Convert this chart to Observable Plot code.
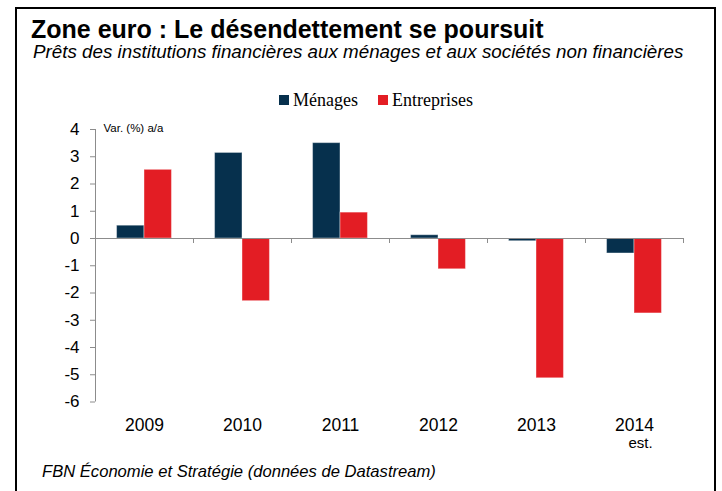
<!DOCTYPE html>
<html><head><meta charset="utf-8">
<script src="https://cdn.jsdelivr.net/npm/d3@7"></script>
<script src="https://cdn.jsdelivr.net/npm/@observablehq/plot@0.6"></script>
<style>
body{margin:0;background:#fff;font-family:"Liberation Sans",Arial,sans-serif;color:#000;}
#wrap{position:relative;width:722px;height:491px;overflow:hidden;}
#box{position:absolute;left:15px;top:7px;width:701px;height:600px;border:2px solid #000;box-sizing:border-box;}
.t{position:absolute;white-space:nowrap;line-height:1;}
#title{left:31px;top:16.8px;font-weight:bold;font-size:25px;}
#subtitle{left:33px;top:43px;font-style:italic;font-size:18.8px;}
#source{left:42px;top:464px;font-style:italic;font-size:16.6px;}
.lg{position:absolute;font-family:"Liberation Serif","Times New Roman",serif;font-size:18px;line-height:1;white-space:nowrap;top:91px;}
.sw{position:absolute;width:10px;height:10px;top:95px;}
#chart{position:absolute;left:0;top:0;}
</style></head>
<body>
<div id="wrap">
  <div id="box"></div>
  <div id="title" class="t"></div>
  <div id="subtitle" class="t"></div>
  <div id="legend"></div>
  <div id="chart"></div>
  <div id="source" class="t"></div>
</div>
<script>
const titleText = "Zone euro : Le désendettement se poursuit";
const subtitleText = "Prêts des institutions financières aux ménages et aux sociétés non financières";
const sourceText = "FBN Économie et Stratégie (données de Datastream)";
const yLabel = "Var. (%) a/a";
const estLabel = "est.";

const years = [2009, 2010, 2011, 2012, 2013, 2014];
const xTickLabels = ["2009", "2010", "2011", "2012", "2013", "2014"];
const menages = [0.47, 3.14, 3.50, 0.12, -0.10, -0.55];
const entreprises = [2.52, -2.30, 0.95, -1.13, -5.13, -2.75];
const seriesNames = ["Ménages", "Entreprises"];
const colors = ["#06304d", "#e31d24"];
const yTicks = [4, 3, 2, 1, 0, -1, -2, -3, -4, -5, -6];

document.getElementById("title").textContent = titleText;
document.getElementById("subtitle").textContent = subtitleText;
document.getElementById("source").textContent = sourceText;

// legend
const legend = document.getElementById("legend");
const swLeft = [279, 378];
seriesNames.forEach((name, i) => {
  const sw = document.createElement("div");
  sw.className = "sw"; sw.style.left = swLeft[i] + "px"; sw.style.background = colors[i];
  const tx = document.createElement("div");
  tx.className = "lg"; tx.style.left = (swLeft[i] + 14) + "px"; tx.textContent = name;
  legend.appendChild(sw); legend.appendChild(tx);
});

const rows = years.map((y, i) => ({year: y, menages: menages[i], entreprises: entreprises[i]}));
const half = 0.28;
const grey = "#8c8c8c";

const chart = Plot.plot({
  width: 722,
  height: 491,
  marginTop: 129,
  marginBottom: 89.5,
  marginLeft: 95,
  marginRight: 39,
  style: {fontFamily: "Liberation Sans, Arial, sans-serif", background: "transparent", overflow: "visible", color: "#000"},
  x: {domain: [years[0] - 0.5, years[years.length - 1] + 0.5]},
  y: {domain: [yTicks[yTicks.length - 1], yTicks[0]]},
  marks: [
    Plot.rectY(rows, {x1: d => d.year - half, x2: d => d.year, y1: 0, y2: "menages", fill: colors[0], stroke: "#fff", strokeOpacity: 0.4}),
    Plot.rectY(rows, {x1: d => d.year, x2: d => d.year + half, y1: 0, y2: "entreprises", fill: colors[1], stroke: "#fff", strokeOpacity: 0.4}),
    Plot.ruleY([0], {stroke: grey}),
    Plot.ruleX(years, {x: d => d + 0.5, y1: 0, y2: 0, insetBottom: -5, stroke: grey}),
    Plot.ruleX([years[0] - 0.5], {stroke: grey}),
    Plot.axisY({ticks: yTicks, tickSize: 5, tickPadding: 11, fontSize: 17, stroke: grey, fill: "#000", label: null, tickFormat: d => String(d)}),
    Plot.axisX({ticks: years, tickSize: 0, tickPadding: 17, fontSize: 17.5, fill: "#000", label: null, tickFormat: d => xTickLabels[years.indexOf(d)]}),
    Plot.text([{year: years[years.length - 1], label: estLabel}], {x: "year", text: "label", frameAnchor: "bottom", dy: 46, dx: 6, fontSize: 15, fill: "#000"}),
    Plot.text([yLabel], {frameAnchor: "top-left", dx: 8, dy: -6, textAnchor: "start", fontSize: 11.5, fill: "#000"})
  ]
});
document.getElementById("chart").appendChild(chart);
</script>
</body></html>
